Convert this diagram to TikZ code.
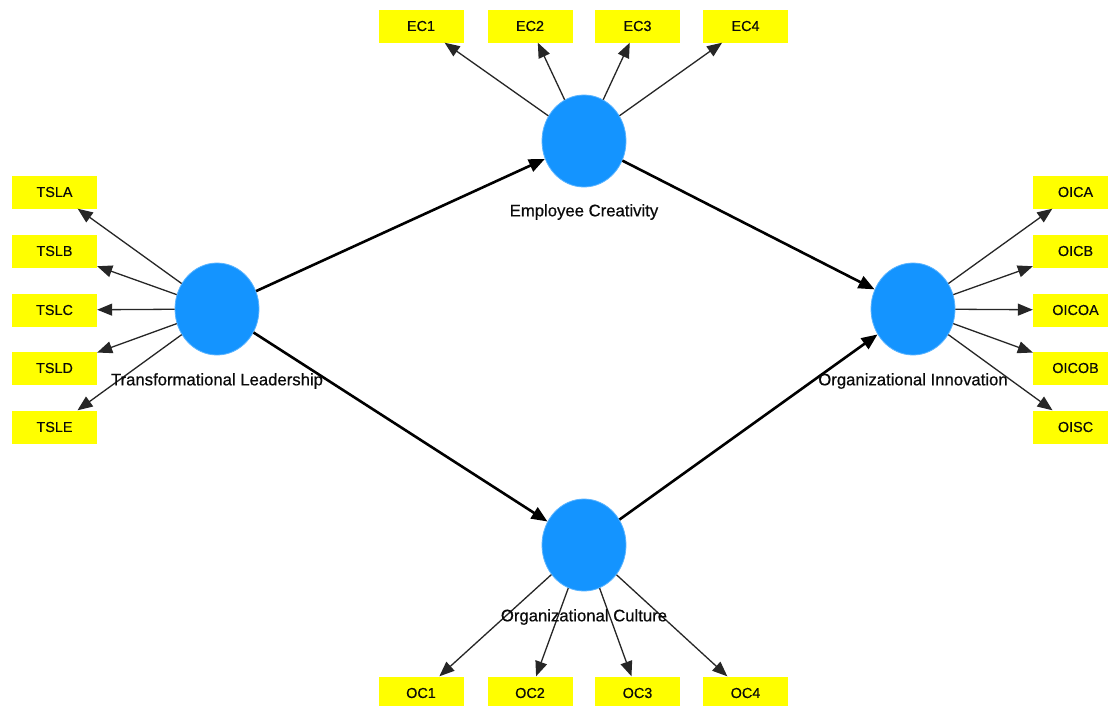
\documentclass[tikz,border=0pt]{standalone}
\usepackage{fontspec}
\setmainfont{Liberation Sans}
\newfontfamily\boldish[FakeBold=0.6]{Liberation Sans}
\newfontfamily\semibold[FakeBold=0.35]{Liberation Sans}
\usetikzlibrary{shapes.geometric,arrows.meta}
\definecolor{latent}{RGB}{20,148,255}
\definecolor{indic}{RGB}{255,255,0}
\definecolor{txt}{RGB}{10,10,10}
\tikzset{
  lv/.style={ellipse,fill=latent,draw=latent!70!white,line width=0.8pt,minimum width=84pt,minimum height=92pt,inner sep=0pt},
  mv/.style={rectangle,fill=indic,minimum width=85pt,minimum height=33pt,inner sep=0pt,text=txt,font=\semibold\fontsize{14.4}{16}\selectfont},
  lvlabel/.style={text=txt,font=\boldish\fontsize{16.7}{19}\selectfont,inner sep=0pt},
  load/.style={draw=black!85,line width=1.3pt,-{Triangle[length=15pt,width=12pt]}},
  path/.style={draw=black,line width=2.6pt,-{Triangle[length=16pt,width=13pt]}}
}
\begin{document}
\begin{tikzpicture}[x=1pt,y=-1pt]
\useasboundingbox (0,0) rectangle (1108,705);
\fill[white] (0,0) rectangle (1108,705);
% latent variables
\node[lv] (TL) at (217,309) {};
\node[lv] (EC) at (584,141) {};
\node[lv] (OI) at (913,309) {};
\node[lv] (OC) at (584,545) {};
% indicators
\node[mv] (TSLA) at (54.5,192) {TSLA};
\node[mv] (TSLB) at (54.5,251) {TSLB};
\node[mv] (TSLC) at (54.5,310) {TSLC};
\node[mv] (TSLD) at (54.5,368) {TSLD};
\node[mv] (TSLE) at (54.5,427) {TSLE};
\node[mv] (EC1) at (421,26) {EC1};
\node[mv] (EC2) at (530,26) {EC2};
\node[mv] (EC3) at (637.5,26) {EC3};
\node[mv] (EC4) at (745.5,26) {EC4};
\node[mv] (OICA) at (1075.5,192) {OICA};
\node[mv] (OICB) at (1075.5,251) {OICB};
\node[mv] (OICOA) at (1075.5,310) {OICOA};
\node[mv] (OICOB) at (1075.5,368) {OICOB};
\node[mv] (OISC) at (1075.5,427) {OISC};
\node[mv] (OC1) at (421,693) {OC1};
\node[mv] (OC2) at (530,693) {OC2};
\node[mv] (OC3) at (637.5,693) {OC3};
\node[mv] (OC4) at (745.5,693) {OC4};
% loadings
\foreach \m in {TSLA,TSLB,TSLC,TSLD,TSLE} \draw[load] (TL) -- (\m);
\foreach \m in {EC1,EC2,EC3,EC4} \draw[load] (EC) -- (\m);
\foreach \m in {OICA,OICB,OICOA,OICOB,OISC} \draw[load] (OI) -- (\m);
\foreach \m in {OC1,OC2,OC3,OC4} \draw[load] (OC) -- (\m);
% structural paths
\draw[path] (TL) -- (EC);
\draw[path] (TL) -- (OC);
\draw[path] (EC) -- (OI);
\draw[path] (OC) -- (OI);
% labels
\node[lvlabel] (TLl) at (217,381) {Transformational Leadership};
\node[lvlabel] (ECl) at (584,212) {Employee Creativity};
\node[lvlabel] (OIl) at (913,381) {Organizational Innovation};
\node[lvlabel] (OCl) at (584,617) {Organizational Culture};
\end{tikzpicture}
\end{document}
